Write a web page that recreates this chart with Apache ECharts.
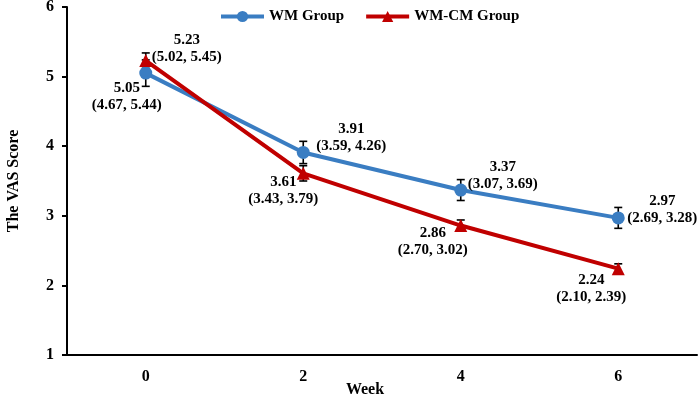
<!DOCTYPE html>
<html><head><meta charset="utf-8">
<script src="https://cdn.jsdelivr.net/npm/echarts@6/dist/echarts.min.js"></script>
<style>html,body{margin:0;padding:0;background:#fff}#c{width:699px;height:396px}</style>
</head><body><div id="c"></div>
<script>
const weeks = ['0', '2', '4', '6'];
const wmMean = [5.05, 3.91, 3.37, 2.97];
const wmCI = [['4.67', '5.44'], ['3.59', '4.26'], ['3.07', '3.69'], ['2.69', '3.28']];
const wmErr = [0.19, 0.16, 0.15, 0.15];
const cmMean = [5.23, 3.61, 2.86, 2.24];
const cmCI = [['5.02', '5.45'], ['3.43', '3.79'], ['2.70', '3.02'], ['2.10', '2.39']];
const cmErr = [0.11, 0.11, 0.08, 0.07];
const yTicks = [1, 2, 3, 4, 5, 6];

const wmLabelOffset = [[-19, 24], [48, -15], [42, -14], [44, -8]];
const cmLabelOffset = [[41, -12], [-20, 17], [-28, 16], [-27, 20]];

const BLUE = '#3a7dc2', RED = '#c00000';
const FONT = 'Liberation Serif';

function pts(mean, ci, offs) {
  return mean.map((v, i) => ({
    value: v,
    label: {
      show: true, position: 'inside', offset: offs[i],
      formatter: v.toFixed(2) + '\n(' + ci[i][0] + ', ' + ci[i][1] + ')',
      color: '#000', fontFamily: FONT, fontWeight: 'bold', fontSize: 15, lineHeight: 17,
      align: 'center', verticalAlign: 'middle'
    }
  }));
}
function errData(mean, err) { return mean.map((v, i) => [i, v - err[i], v + err[i]]); }
function errSeries(mean, err) {
  return {
    type: 'custom', z: 1, silent: true,
    data: errData(mean, err),
    renderItem: function (params, api) {
      const x = api.value(0);
      const lo = api.coord([x, api.value(1)]);
      const hi = api.coord([x, api.value(2)]);
      const w = 4;
      const st = { stroke: '#000', lineWidth: 1.6 };
      return { type: 'group', children: [
        { type: 'line', shape: { x1: lo[0], y1: lo[1], x2: hi[0], y2: hi[1] }, style: st },
        { type: 'line', shape: { x1: lo[0] - w, y1: lo[1], x2: lo[0] + w, y2: lo[1] }, style: st },
        { type: 'line', shape: { x1: hi[0] - w, y1: hi[1], x2: hi[0] + w, y2: hi[1] }, style: st }
      ]};
    }
  };
}

const chart = echarts.init(document.getElementById('c'));
chart.setOption({
  animation: false,
  grid: { left: 67, right: 2, top: 7, bottom: 41, containLabel: false, outerBoundsMode: 'none' },
  legend: {
    data: ['WM Group', 'WM-CM Group'], top: 4, left: 214, itemWidth: 43, itemHeight: 14, itemGap: 20,
    lineStyle: { width: 4 },
    textStyle: { fontFamily: FONT, fontWeight: 'bold', fontSize: 15, color: '#000' }
  },
  xAxis: {
    type: 'category', data: weeks, boundaryGap: true,
    name: 'Week', nameLocation: 'middle', nameGap: 27, nameMoveOverlap: false,
    nameTextStyle: { fontFamily: FONT, fontWeight: 'bold', fontSize: 16, color: '#000', padding: [0, 34, 0, 0] },
    axisLine: { lineStyle: { color: '#000', width: 2 } },
    axisTick: { show: false },
    axisLabel: { fontFamily: FONT, fontWeight: 'bold', fontSize: 16, color: '#000', margin: 14 }
  },
  yAxis: {
    type: 'value', min: yTicks[0], max: yTicks[yTicks.length - 1], interval: 1,
    name: 'The VAS Score', nameLocation: 'middle', nameGap: 45, nameRotate: 90, nameMoveOverlap: false,
    nameTextStyle: { fontFamily: FONT, fontWeight: 'bold', fontSize: 16, color: '#000' },
    axisLine: { show: true, lineStyle: { color: '#000', width: 2 } },
    axisTick: { show: true, length: 5, lineStyle: { color: '#000', width: 2 } },
    splitLine: { show: false },
    axisLabel: { fontFamily: FONT, fontWeight: 'bold', fontSize: 16, color: '#000', margin: 13 }
  },
  series: [
    errSeries(wmMean, wmErr),
    errSeries(cmMean, cmErr),
    {
      name: 'WM Group', type: 'line', z: 3, data: pts(wmMean, wmCI, wmLabelOffset),
      symbol: 'circle', symbolSize: 13,
      lineStyle: { color: BLUE, width: 4 }, itemStyle: { color: BLUE }
    },
    {
      name: 'WM-CM Group', type: 'line', z: 4, data: pts(cmMean, cmCI, cmLabelOffset),
      symbol: 'triangle', symbolSize: 13,
      lineStyle: { color: RED, width: 4 }, itemStyle: { color: RED }
    }
  ]
});
</script></body></html>
